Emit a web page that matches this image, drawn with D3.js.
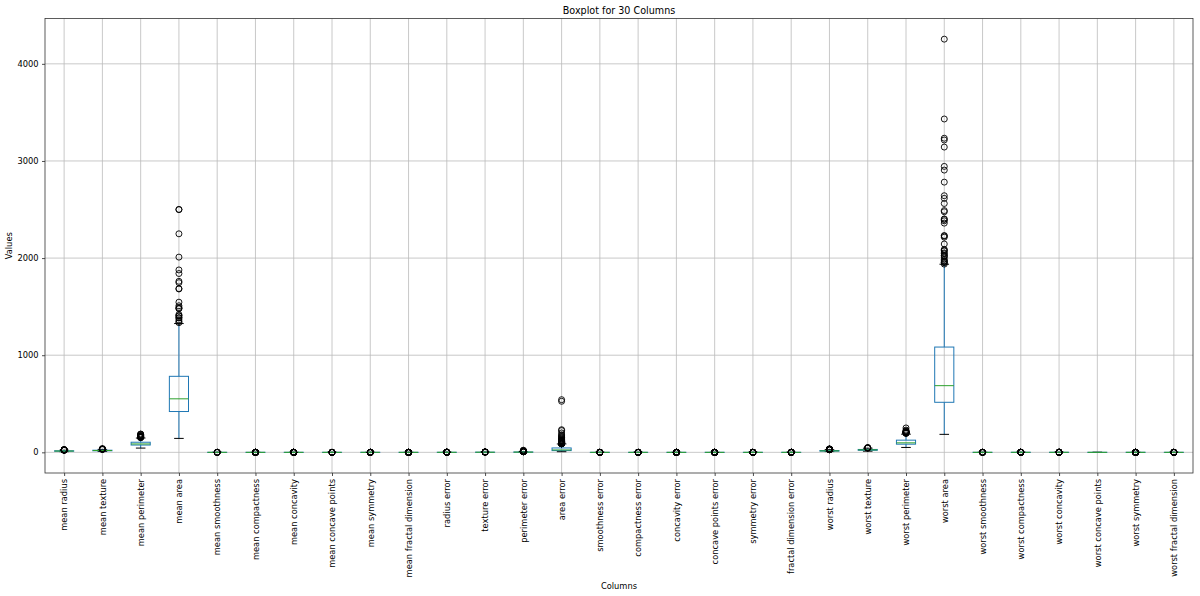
<!DOCTYPE html>
<html><head><meta charset="utf-8">
<script src="https://cdn.jsdelivr.net/npm/d3@7"></script>
<style>body{margin:0;background:#fff}svg{display:block}svg text{font-family:"DejaVu Sans",sans-serif}</style>
</head><body>
<script>
const columns = ["mean radius","mean texture","mean perimeter","mean area","mean smoothness","mean compactness","mean concavity","mean concave points","mean symmetry","mean fractal dimension","radius error","texture error","perimeter error","area error","smoothness error","compactness error","concavity error","concave points error","symmetry error","fractal dimension error","worst radius","worst texture","worst perimeter","worst area","worst smoothness","worst compactness","worst concavity","worst concave points","worst symmetry","worst fractal dimension"];
const q1 = [11.7,16.17,75.17,420.3,0.08637,0.06492,0.02956,0.02031,0.1619,0.0577,0.2324,0.8339,1.606,17.85,0.005169,0.01308,0.01509,0.007638,0.01516,0.002248,13.01,21.08,84.11,515.3,0.1166,0.1472,0.1145,0.06493,0.2504,0.07146];
const medians = [13.37,18.84,86.24,551.1,0.09587,0.09263,0.06154,0.0335,0.1792,0.06154,0.3242,1.108,2.287,24.53,0.00638,0.02045,0.02589,0.01093,0.01873,0.003187,14.97,25.41,97.66,686.5,0.1313,0.2119,0.2267,0.09993,0.2822,0.08004];
const q3 = [15.78,21.8,104.1,782.7,0.1053,0.1304,0.1307,0.074,0.1957,0.06612,0.4789,1.474,3.357,45.19,0.008146,0.03245,0.04205,0.01471,0.02348,0.004558,18.79,29.72,125.4,1084,0.146,0.3391,0.3829,0.1614,0.3179,0.09208];
const whiskerLow = [6.981,9.71,43.79,143.5,0.06251,0.01938,0,0,0.1167,0.04996,0.1115,0.3602,0.757,6.802,0.001713,0.002252,0,0,0.007882,0.0008948,7.93,12.02,50.41,185.2,0.07117,0.02729,0,0,0.1565,0.05504];
const whiskerHigh = [21.71,30.11,147.3,1326,0.1326,0.228,0.2812,0.1535,0.2459,0.07871,0.8361,2.426,5.983,86.2,0.01262,0.06213,0.0804,0.02454,0.0359,0.008015,27.32,42.65,186.8,1937,0.1883,0.6247,0.7727,0.291,0.4128,0.1217];
const outliers = [
 [28.11,27.42,27.22,25.73,25.22,24.63,24.25,23.51,23.29,23.27,23.21,23.09,22.27,22.01],
 [39.28,33.81,33.56,32.47,31.12,30.72,30.62],
 [188.5,186.9,182.1,174.2,171.5,166.2,165.5,163.7,158.9,155.1,153.5,152.8,152.1],
 [2501,2499,2250,2010,1878,1841,1761,1747,1686,1682,1546,1509,1491,1482,1479,1419,1407,1404,1386,1384,1364,1347,1335],
 [0.1634,0.1447,0.1425,0.1398,0.1371,0.05263],
 [0.3454,0.3114,0.2867,0.2839,0.2832,0.2776,0.2768,0.2665,0.2576,0.2458,0.2413,0.2396,0.2364,0.2293],
 [0.4268,0.4264,0.4108,0.3754,0.375,0.3635,0.3523,0.3514,0.3497,0.3368,0.3339,0.3201,0.3176,0.313,0.3003,0.296,0.2914,0.2871],
 [0.2012,0.1913,0.1878,0.1845,0.1823,0.1741,0.171,0.1689,0.162,0.1604],
 [0.304,0.2906,0.2743,0.2678,0.2655,0.2597,0.2595,0.2569,0.2556,0.2548,0.2495,0.106],
 [0.09744,0.09575,0.09502,0.09296,0.0898,0.08743,0.0845,0.08261,0.08243,0.08142,0.08116,0.08104,0.08046,0.0795],
 [2.873,2.547,1.509,1.37,1.296,1.292,1.214,1.207,1.167,1.058,1.046,1.009,1.004,1.0,0.9948,0.9811,0.9806],
 [4.885,3.896,3.647,3.568,3.12,2.91,2.878,2.836,2.664,2.612,2.542,2.509,2.508,2.463],
 [21.98,18.65,11.07,10.12,9.807,9.635,8.867,8.83,8.649,8.419,8.077,7.8,7.733,7.382,7.337,7.276,7.237,7.128,7.05,7.029],
 [542.2,525.6,233,224.1,199.7,180.2,170.1,158.7,153.1,139.9,134.8,128.7,122.3,118.8,116.4,116.2,115.2,111.7,111.4,106,104.9,103.9,102.6,101.2,98.81,98.27,97.85,96.05,94.44,94.03,93.99,93.91,93.54,91.31,90.94,90.47,88.25,87.87,87.78,87.17],
 [0.03113,0.02333,0.02177,0.0201,0.01835,0.01721,0.01604,0.01582,0.01546,0.01495,0.01418,0.01385],
 [0.1354,0.1064,0.09806,0.09586,0.08668,0.08606,0.08555,0.08297,0.0819,0.07643,0.07471,0.07446],
 [0.396,0.3038,0.1535,0.1438,0.1278,0.1197,0.1114,0.1091,0.1056,0.1,0.09723,0.09518,0.09472,0.08958,0.0889,0.08802,0.08232,0.0812],
 [0.05279,0.0409,0.03927,0.03487,0.03441,0.03322,0.03024,0.02853,0.02801,0.02794,0.02771,0.02765,0.02721,0.02624,0.02598,0.02593,0.02536],
 [0.07895,0.06146,0.05963,0.05628,0.05543,0.05333,0.05168,0.05113,0.04783,0.04547,0.04499,0.04484,0.04243,0.04197,0.04192,0.04183,0.04077,0.03997,0.03879,0.03799],
 [0.02984,0.02286,0.02193,0.01792,0.01298,0.01284,0.01256,0.0122,0.01178,0.01172,0.01045,0.01039,0.01008,0.009875,0.009559,0.009423,0.009208,0.008925,0.008675,0.00866],
 [36.04,33.13,33.12,32.49,31.01,30.79,30.75,30.67,30.0,29.92,29.17,28.4,28.19,28.11,28.01,27.9,27.66],
 [49.54,47.16,45.41,44.87,42.79],
 [251.2,229.3,220.8,214.0,211.7,211.5,206.8,206.0,205.7,205.7,202.4,199.5,199.5,195.9,195.0],
 [4254,3432,3234,3216,3143,2944,2906,2782,2642,2615,2562,2489,2477,2403,2398,2384,2360,2232,2227,2215,2145,2089,2081,2073,2053,2044,2027,2022,2010,1986,1972,1968,1956,1952,1938],
 [0.2226,0.2184,0.2098,0.2006,0.1962,0.1909,0.1902],
 [1.058,0.9379,0.9327,0.8681,0.7917,0.7725,0.7584,0.7444,0.7394,0.6656,0.6643,0.659,0.6577,0.6472,0.6409,0.6358],
 [1.252,1.17,1.105,0.9608,0.9387,0.9034,0.8681,0.8489,0.8488,0.8402,0.8216,0.7892],
 [],
 [0.6638,0.5774,0.5558,0.544,0.5166,0.4882,0.4863,0.4761,0.4753,0.4724,0.4695,0.4677,0.467,0.4667,0.4627,0.4601,0.4556,0.4432,0.4412,0.4378,0.4264,0.4245,0.4228],
 [0.2075,0.173,0.1486,0.1446,0.1431,0.1409,0.1403,0.1364,0.1339,0.1284,0.1259,0.1249,0.1233]
];
const yTicks = [0,1000,2000,3000,4000];
const titleText = "Boxplot for 30 Columns";
const xLabel = "Columns";
const yLabel = "Values";

const W = 1200, H = 596;
const m = {left:45, right:1193, top:18.5, bottom:473};
const FONT = '"DejaVu Sans", sans-serif';
const svg = d3.select("body").append("svg").attr("width",W).attr("height",H);

const allVals = d3.merge([whiskerLow, whiskerHigh, d3.merge(outliers)]);
const ymin = d3.min(allVals), ymax = d3.max(allVals);
const pad = (ymax - ymin) * 0.05;
const y = d3.scaleLinear().domain([ymin - pad, ymax + pad]).range([m.bottom, m.top]);
const x = d3.scaleLinear().domain([0.5, columns.length + 0.5]).range([m.left, m.right]);
const step = x(2) - x(1);
const boxW = step * 0.5, capW = step * 0.25;

// grid
const grid = svg.append("g").attr("stroke","#b0b0b0").attr("stroke-width",0.8).attr("opacity",0.85);
columns.forEach((c,i)=>grid.append("line").attr("x1",x(i+1)).attr("x2",x(i+1)).attr("y1",m.top).attr("y2",m.bottom));
yTicks.forEach(t=>grid.append("line").attr("x1",m.left).attr("x2",m.right).attr("y1",y(t)).attr("y2",y(t)));

// axes
const xAxis = d3.axisBottom(x).tickValues(columns.map((c,i)=>i+1)).tickFormat((d)=>columns[d-1]).tickSize(3).tickPadding(3);
const gx = svg.append("g").attr("transform",`translate(0,${m.bottom})`).call(xAxis).attr("font-family",FONT).attr("font-size",8.3);
gx.select(".domain").remove();
gx.selectAll("text").attr("fill","#000").attr("text-anchor","end")
  .attr("transform","rotate(-90)").attr("x",-6).attr("y",0).attr("dy","0.33em");
gx.selectAll("line").attr("stroke","#000").attr("stroke-width",0.7);

const yAxis = d3.axisLeft(y).tickValues(yTicks).tickFormat(d3.format("d")).tickSize(3).tickPadding(3.5);
const gy = svg.append("g").attr("transform",`translate(${m.left},0)`).call(yAxis).attr("font-family",FONT).attr("font-size",8.3);
gy.select(".domain").remove();
gy.selectAll("text").attr("fill","#000");
gy.selectAll("line").attr("stroke","#000").attr("stroke-width",0.7);

// boxes
const g = svg.append("g");
columns.forEach((c,i)=>{
  const cx = x(i+1);
  g.append("line").attr("x1",cx).attr("x2",cx).attr("y1",y(q1[i])).attr("y2",y(whiskerLow[i])).attr("stroke","#1f77b4").attr("stroke-width",1);
  g.append("line").attr("x1",cx).attr("x2",cx).attr("y1",y(q3[i])).attr("y2",y(whiskerHigh[i])).attr("stroke","#1f77b4").attr("stroke-width",1);
  [whiskerLow[i], whiskerHigh[i]].forEach(v=>g.append("line").attr("x1",cx-capW/2).attr("x2",cx+capW/2).attr("y1",y(v)).attr("y2",y(v)).attr("stroke","#000").attr("stroke-width",1));
  g.append("rect").attr("x",cx-boxW/2).attr("width",boxW).attr("y",y(q3[i])).attr("height",Math.max(0,y(q1[i])-y(q3[i])))
    .attr("fill","none").attr("stroke","#1f77b4").attr("stroke-width",1);
  g.append("line").attr("x1",cx-boxW/2).attr("x2",cx+boxW/2).attr("y1",y(medians[i])).attr("y2",y(medians[i])).attr("stroke","#2ca02c").attr("stroke-width",1);
  outliers[i].forEach(v=>g.append("circle").attr("cx",cx).attr("cy",y(v)).attr("r",3).attr("fill","none").attr("stroke","#000").attr("stroke-width",0.9));
});

// frame
svg.append("rect").attr("x",m.left).attr("y",m.top).attr("width",m.right-m.left).attr("height",m.bottom-m.top)
  .attr("fill","none").attr("stroke","#333").attr("stroke-width",0.8);

// labels
svg.append("text").attr("x",(m.left+m.right)/2).attr("y",14).attr("text-anchor","middle").attr("font-size",9.6).text(titleText);
svg.append("text").attr("x",(m.left+m.right)/2).attr("y",589).attr("text-anchor","middle").attr("font-size",8.3).text(xLabel);
svg.append("text").attr("transform",`translate(12,${(m.top+m.bottom)/2}) rotate(-90)`).attr("text-anchor","middle").attr("font-size",8.3).text(yLabel);
</script>
</body></html>
